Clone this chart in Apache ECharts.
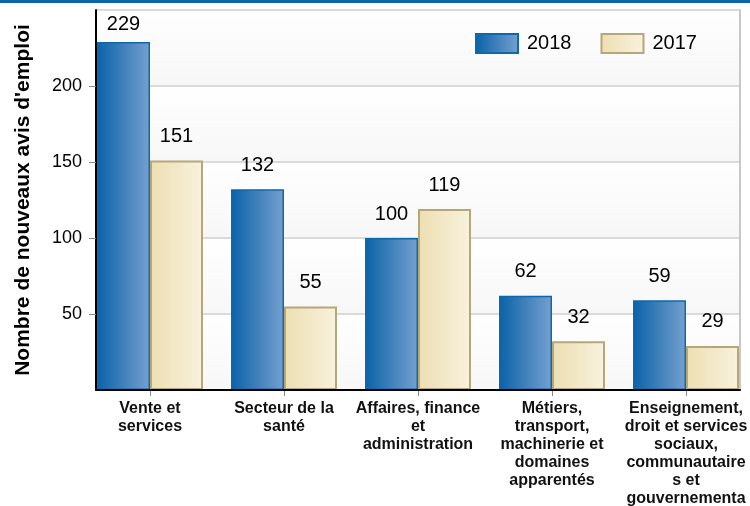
<!DOCTYPE html>
<html>
<head>
<meta charset="utf-8">
<script src="https://cdn.jsdelivr.net/npm/echarts@6/dist/echarts.min.js"></script>
<style>
  html, body { margin: 0; padding: 0; background: #fff; }
  #chart { width: 750px; height: 506px; }
</style>
</head>
<body>
<div id="chart"></div>
<script>
// catégories (retours à la ligne comme dans l'image)
const categories = [
  "Vente et\nservices",
  "Secteur de la\nsanté",
  "Affaires, finance\net\nadministration",
  "Métiers,\ntransport,\nmachinerie et\ndomaines\napparentés",
  "Enseignement,\ndroit et services\nsociaux,\ncommunautaire\ns et\ngouvernementa\nux"
];
const seriesNames = ["2018", "2017"];
const values2018 = [229, 132, 100, 62, 59];
const values2017 = [151, 55, 119, 32, 29];
const yTicks = { min: 0, max: 250, interval: 50 };

const font = "'Liberation Sans', Arial, sans-serif";
const chart = echarts.init(document.getElementById("chart"));

// dégradés horizontaux des barres
const blueFill = new echarts.graphic.LinearGradient(0, 0, 1, 0, [
  { offset: 0, color: "#0a62a7" },
  { offset: 1, color: "#76a0cf" }
]);
const beigeFill = new echarts.graphic.LinearGradient(0, 0, 1, 0, [
  { offset: 0, color: "#eddfb2" },
  { offset: 1, color: "#f8f2de" }
]);

const valueLabel = {
  show: true,
  position: "top",
  distance: 14,
  color: "#000",
  fontSize: 20,
  fontFamily: font
};

// garder les étiquettes dans la zone du graphique
const keepInside = params => {
  if (params.labelRect.y < 14) {
    return { dy: 14 - params.labelRect.y };
  }
};

const option = {
  backgroundColor: "#fff",
  animation: false,
  textStyle: { fontFamily: font },
  graphic: [
    {
      type: "rect",
      left: 0,
      top: 0,
      shape: { width: 750, height: 3 },
      style: { fill: "#0b65aa" }
    }
  ],
  legend: {
    left: 475,
    top: 33,
    padding: 0,
    z: 10,
    itemWidth: 42,
    itemHeight: 19,
    itemGap: 29,
    selectedMode: false,
    icon: "rect",
    data: seriesNames,
    textStyle: { fontSize: 20, color: "#000", fontFamily: font, padding: [0, 0, 0, 4] }
  },
  grid: [
    // barres
    { left: 83, right: -3, top: 10, bottom: 116, outerBoundsMode: "none", containLabel: false },
    // cadre, axes et grille
    { left: 96, right: 10, top: 10, bottom: 116, outerBoundsMode: "none", containLabel: false }
  ],
  xAxis: [
    {
      type: "category",
      gridIndex: 0,
      data: categories,
      axisLine: { show: false },
      axisTick: { show: true, alignWithLabel: true, length: 6, lineStyle: { color: "#888", width: 1 } },
      axisLabel: {
        margin: 10,
        fontSize: 16,
        fontWeight: "bold",
        lineHeight: 18,
        color: "#111",
        fontFamily: font,
        interval: 0
      }
    },
    {
      type: "category",
      gridIndex: 1,
      data: categories,
      z: 5,
      axisLine: { show: true, lineStyle: { color: "#000", width: 2 } },
      axisTick: { show: false },
      axisLabel: { show: false }
    }
  ],
  yAxis: [
    {
      type: "value",
      gridIndex: 0,
      min: yTicks.min,
      max: yTicks.max,
      interval: yTicks.interval,
      show: false
    },
    {
      type: "value",
      gridIndex: 1,
      min: yTicks.min,
      max: yTicks.max,
      interval: yTicks.interval,
      z: 0,
      name: "Nombre de nouveaux avis d'emploi",
      nameLocation: "middle",
      nameGap: 62,
      nameTextStyle: { fontSize: 21, fontWeight: "bold", color: "#000", fontFamily: font },
      axisLine: { show: true, lineStyle: { color: "#000", width: 2 } },
      axisTick: { show: true, length: 7, lineStyle: { color: "#888" } },
      axisLabel: {
        margin: 14,
        fontSize: 18,
        color: "#000",
        fontFamily: font,
        showMinLabel: false,
        showMaxLabel: false
      },
      splitLine: { show: true, lineStyle: { color: "#dadada", width: 2 } },
      splitArea: {
        show: true,
        areaStyle: {
          color: [
            new echarts.graphic.LinearGradient(0, 0, 0, 1, [
              { offset: 0, color: "#ffffff" },
              { offset: 1, color: "#f7f7f7" }
            ])
          ]
        }
      }
    },
    {
      type: "value",
      gridIndex: 1,
      position: "right",
      min: yTicks.min,
      max: yTicks.max,
      interval: yTicks.interval,
      axisLine: { show: true, lineStyle: { color: "#c8c8c8", width: 2 } },
      axisTick: { show: false },
      axisLabel: { show: false },
      splitLine: { show: false }
    }
  ],
  series: [
    {
      name: seriesNames[0],
      type: "bar",
      xAxisIndex: 0,
      yAxisIndex: 0,
      barGap: "0%",
      barCategoryGap: "20.9%",
      data: values2018,
      itemStyle: { color: blueFill, borderColor: "#0d68ad", borderWidth: 1.5 },
      label: valueLabel,
      labelLayout: keepInside
    },
    {
      name: seriesNames[1],
      type: "bar",
      xAxisIndex: 0,
      yAxisIndex: 0,
      data: values2017,
      itemStyle: { color: beigeFill, borderColor: "#b6a67a", borderWidth: 2 },
      label: valueLabel,
      labelLayout: keepInside
    }
  ]
};

chart.setOption(option);
</script>
</body>
</html>
